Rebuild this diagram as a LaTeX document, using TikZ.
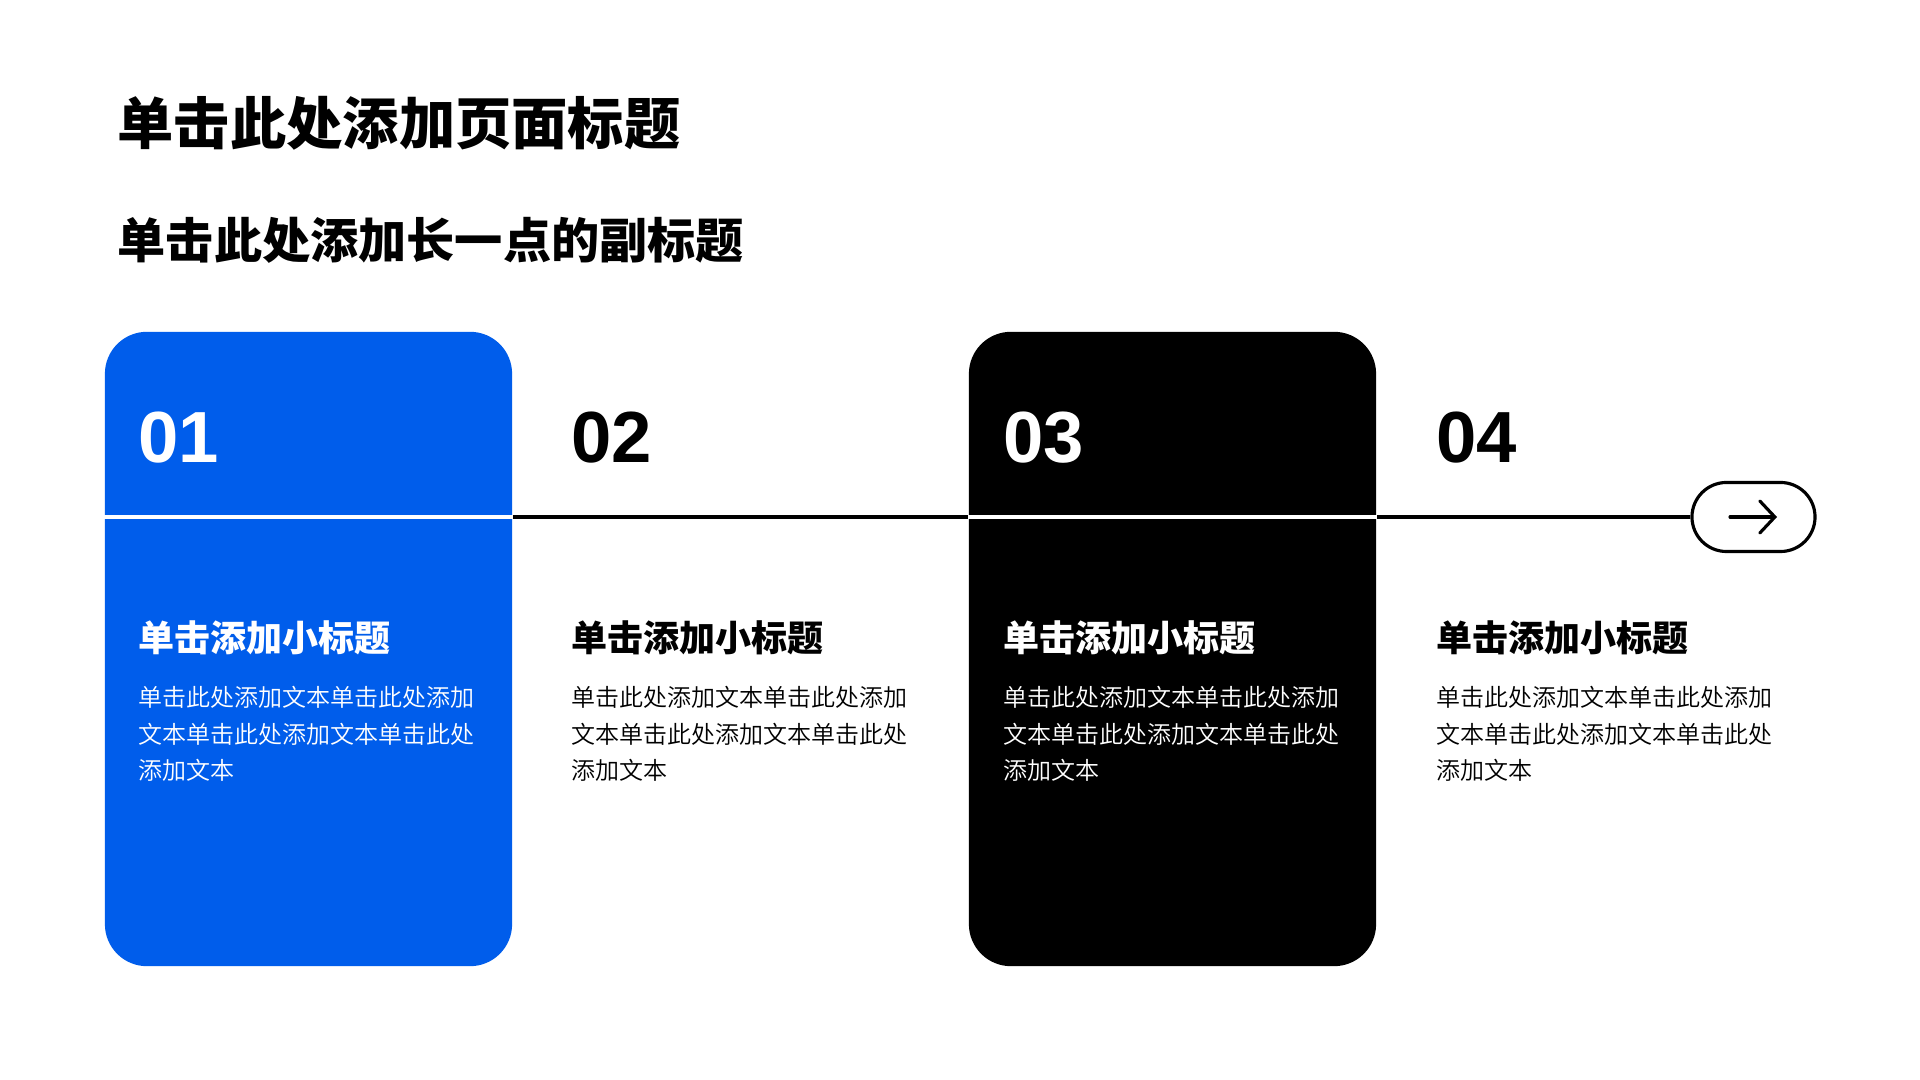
\documentclass[tikz,border=0pt]{standalone}
\usepackage{fontspec}
\setmainfont{Liberation Sans}
\newfontfamily\cjk{Noto Sans CJK SC}
\IfFontExistsTF{Noto Sans CJK SC Black}
  {\newfontfamily\cjkheavy{Noto Sans CJK SC Black}}
  {\newfontfamily\cjkheavy{Noto Sans CJK SC}[UprightFont=*/B]}
\IfFontExistsTF{Noto Sans CJK SC DemiLight}
  {\newfontfamily\cjklight{Noto Sans CJK SC DemiLight}}
  {\newfontfamily\cjklight{Noto Sans CJK SC}}
\usetikzlibrary{arrows.meta, positioning}

\definecolor{cardblue}{HTML}{005DEB}

\tikzset{
  card/.style={rounded corners=0.42cm, minimum width=4.07cm, minimum height=6.34cm, inner sep=0pt},
  stepnum/.style={anchor=base west, inner sep=0pt, font=\fontsize{20.6pt}{20.6pt}\selectfont\bfseries},
  stephead/.style={anchor=base west, inner sep=0pt, font=\cjk\bfseries\fontsize{10.25pt}{10.25pt}\selectfont},
  stepbody/.style={anchor=base west, inner sep=0pt, align=left, font=\cjklight\fontsize{6.83pt}{10.5pt}\selectfont},
}

\begin{document}
\begin{tikzpicture}[x=0.01cm, y=-0.01cm]
    \useasboundingbox (0, 0) rectangle (1920, 1080);
    \fill[white] (0, 0) rectangle (1920, 1080);

    % Titles
    \node[anchor=base west, inner sep=0pt, font=\cjkheavy\fontsize{16pt}{16pt}\selectfont] (title) at (117, 145) {单击此处添加页面标题};
    \node[anchor=base west, inner sep=0pt, font=\cjkheavy\fontsize{13.7pt}{13.7pt}\selectfont] (subtitle) at (117, 259) {单击此处添加长一点的副标题};

    % Cards
    \node[card, fill=cardblue] (c1) at (308.5, 649) {};
    \node[card, fill=black] (c3) at (1172.5, 649) {};

    % Timeline
    \coordinate (start) at (105, 517);
    \node[draw, line width=0.9pt, rounded corners=0.345cm, minimum width=1.23cm, minimum height=0.69cm, inner sep=0pt] (pill) at (1753.5, 517) {};
    \draw[line width=0.9pt] (start) -- (pill.west);
    \draw[white, line width=0.9pt] (c1.west |- start) -- (c1.east |- start);
    \draw[white, line width=0.9pt] (c3.west |- start) -- (c3.east |- start);
    \draw[line width=0.9pt, line cap=round, -{Straight Barb[length=0.15cm, width=0.32cm, line cap=round]}] ([xshift=-0.235cm]pill.center) -- ([xshift=0.235cm]pill.center);

    % Steps
    \foreach \i/\num/\txtcol in {0/01/white, 1/02/black, 2/03/white, 3/04/black} {
        \node[stepnum, text=\txtcol] (n\num) at (138 + 432.5*\i, 463) {\num};
        \node[stephead, text=\txtcol] (h\num) at (138 + 432.5*\i, 652) {单击添加小标题};
        \node[stepbody, text=\txtcol] (b\num) at (138 + 432.5*\i, 780)
            {单击此处添加文本单击此处添加\\文本单击此处添加文本单击此处\\添加文本};
    }
\end{tikzpicture}
\end{document}
